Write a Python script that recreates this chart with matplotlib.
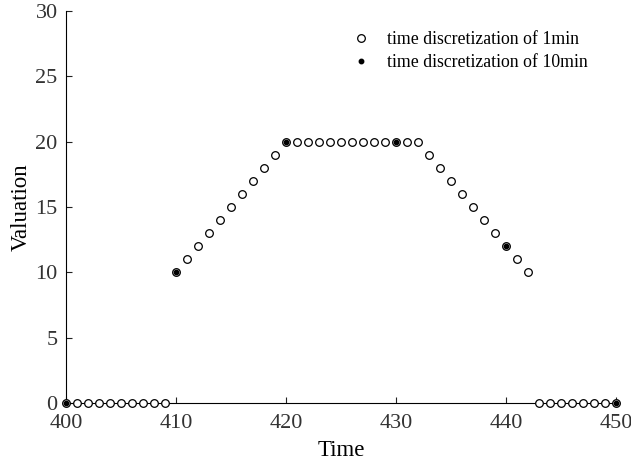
import matplotlib
matplotlib.use("Agg")
import matplotlib.pyplot as plt
import numpy as np

plt.rcParams['font.family'] = ['Liberation Serif', 'DejaVu Serif']

time_1min = list(range(400, 451))
val_1min = ([0]*10 + [10, 11, 12, 13, 14, 15, 16, 17, 18, 19]
            + [20]*13 + [19, 18, 17, 16, 15, 14, 13, 12, 11, 10] + [0]*8)
time_10min = [400, 410, 420, 430, 440, 450]
val_10min = [0, 10, 20, 20, 12, 0]

xticks = [400, 410, 420, 430, 440, 450]
yticks = [0, 5, 10, 15, 20, 25, 30]

fig = plt.figure(figsize=(6.31, 4.63), dpi=100)
ax = fig.add_axes([0.1046, 0.1296, 0.8716, 0.8464])

ax.plot(time_1min, val_1min, 'o', mfc='white', mec='black', ms=5.5, mew=0.9,
        linestyle='none', label='time discretization of 1min', clip_on=False, zorder=3)
ax.plot(time_10min, val_10min, 'o', mfc='black', mec='black', ms=3.2,
        linestyle='none', label='time discretization of 10min', clip_on=False, zorder=4)

ax.set_xlim(400, 450)
ax.set_ylim(0, 30)
ax.set_xticks(xticks)
ax.set_yticks(yticks)
ax.spines['top'].set_visible(False)
ax.spines['right'].set_visible(False)
ax.tick_params(direction='in', length=4, labelsize=16, colors='#222222')
ax.tick_params(axis='x', pad=8)
ax.tick_params(axis='y', pad=6)
for lab in ax.get_xticklabels() + ax.get_yticklabels():
    lab.set_color('#333333')
ax.set_xlabel('Time', fontsize=16.5, labelpad=0)
ax.set_ylabel('Valuation', fontsize=16.5, labelpad=4)
ax.xaxis.set_label_coords(0.5, -0.094)
ax.yaxis.set_label_coords(-0.062, 0.5)

ax.legend(loc='upper right', bbox_to_anchor=(0.978, 0.99), frameon=False, fontsize=12.75,
          handletextpad=0.5, labelspacing=0.36)

fig.savefig('out.png', dpi=100)
